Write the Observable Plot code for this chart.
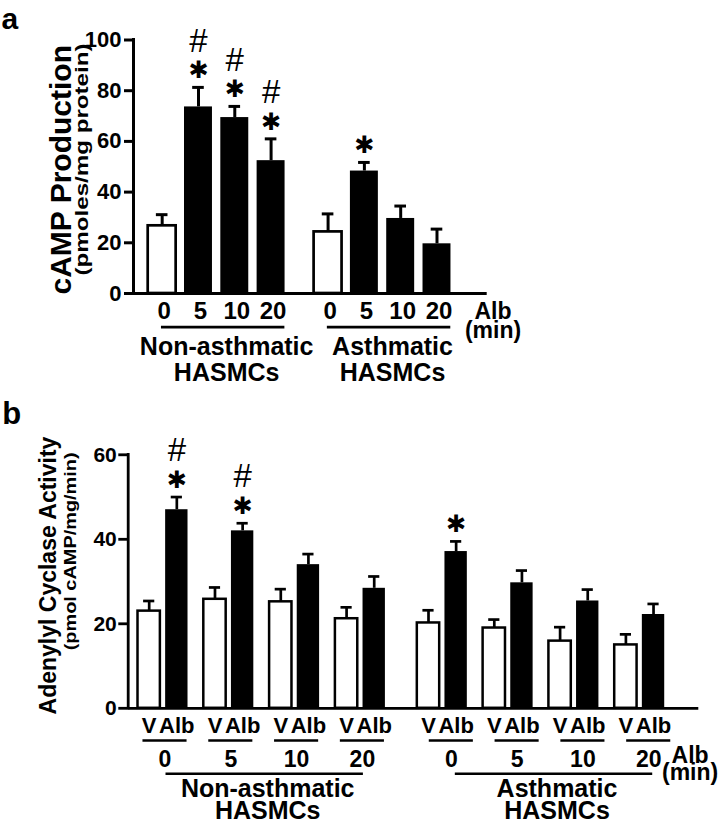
<!DOCTYPE html>
<html><head><meta charset="utf-8">
<script src="https://cdn.jsdelivr.net/npm/d3@7"></script>
<script src="https://cdn.jsdelivr.net/npm/@observablehq/plot@0.6"></script>
<style>
body{margin:0;background:#fff;width:723px;height:826px;overflow:hidden}
#chart svg{display:block}
</style></head><body><div id="chart"></div>
<script>
const FONT = "'Liberation Sans', Arial, Helvetica, sans-serif";

// ---------- Panel a data ----------
const panelA = "a";
const yTitleA = "cAMP Production";
const ySubA = "(pmoles/mg protein)";
const yTicksA = [0, 20, 40, 60, 80, 100];
const cellsA = ["Non-asthmatic\nHASMCs", "Asthmatic\nHASMCs"];
const timesA = ["0", "5", "10", "20"];
const unitNoteA = "Alb\n(min)";
const meanNonA = [26.7, 73.6, 69.4, 52.4];
const semNonA = [4.4, 7.7, 4.4, 8.6];
const meanAsthA = [24.3, 48.3, 29.6, 19.6];
const semAsthA = [7.1, 3.4, 4.9, 5.8];
const starNonA = [0, 1, 1, 1];
const hashNonA = [0, 1, 1, 1];
const starAsthA = [0, 1, 0, 0];
const hashAsthA = [0, 0, 0, 0];

// ---------- Panel b data ----------
const panelB = "b";
const yTitleB = "Adenylyl Cyclase Activity";
const ySubB = "(pmol cAMP/mg/min)";
const yTicksB = [0, 20, 40, 60];
const cellsB = ["Non-asthmatic\nHASMCs", "Asthmatic\nHASMCs"];
const timesB = ["0", "5", "10", "20"];
const treatB = ["V", "Alb"];
const unitNoteB = "Alb\n(min)";
const meanNonVB = [23.0, 25.8, 25.2, 21.2];
const semNonVB = [2.4, 2.8, 3.0, 2.7];
const meanNonAlbB = [47.0, 42.0, 34.0, 28.4];
const semNonAlbB = [3.0, 1.8, 2.5, 2.8];
const meanAsthVB = [20.2, 19.0, 15.9, 15.0];
const semAsthVB = [3.0, 2.0, 3.3, 2.5];
const meanAsthAlbB = [37.1, 29.7, 25.4, 22.2];
const semAsthAlbB = [2.4, 2.9, 2.7, 2.5];
const starNonAlbB = [1, 1, 0, 0];
const hashNonAlbB = [1, 1, 0, 0];
const starAsthAlbB = [1, 0, 0, 0];

// ---------- layout (slot units on a linear x scale) ----------
const GAP_A = 4.57, HW_A = 0.385, CAP_A = 0.16, xDomA = [-0.79, 8.953];
const GAP_B = 4.245, PAIR_B = 0.21, HW_B = 0.17, CAP_B = 0.085, xDomB = [-0.529, 8.143];
const STAR = {text: () => "\u2731", fontFamily: "'DejaVu Sans', sans-serif", fontSize: 24, fontWeight: "normal", dy: -17};
const HASH = {text: () => "#", fontFamily: FONT, fontSize: 33, fontWeight: "normal", dy: -46};

// ---------- build rows ----------
const rowsA = [];
[[meanNonA, semNonA, starNonA, hashNonA], [meanAsthA, semAsthA, starAsthA, hashAsthA]].forEach(([m, s, st, h], ci) => {
  timesA.forEach((t, ti) => rowsA.push({ci, time: t, pos: ti + ci * GAP_A, mean: m[ti], top: m[ti] + s[ti], star: !!st[ti], hash: !!h[ti], open: ti === 0}));
});
const groupsA = cellsA.map((label, ci) => ({ci, label, first: ci * GAP_A, last: timesA.length - 1 + ci * GAP_A}));

const rowsB = [];
[
  {ci: 0, tr: 0, m: meanNonVB, s: semNonVB},
  {ci: 0, tr: 1, m: meanNonAlbB, s: semNonAlbB, st: starNonAlbB, h: hashNonAlbB},
  {ci: 1, tr: 0, m: meanAsthVB, s: semAsthVB},
  {ci: 1, tr: 1, m: meanAsthAlbB, s: semAsthAlbB, st: starAsthAlbB}
].forEach(({ci, tr, m, s, st, h}) => timesB.forEach((t, ti) => {
  const g = ti + ci * GAP_B;
  rowsB.push({ci, treat: treatB[tr], time: t, g, pos: g + (tr === 0 ? -PAIR_B : PAIR_B), mean: m[ti], top: m[ti] + s[ti], star: !!(st && st[ti]), hash: !!(h && h[ti]), open: tr === 0});
}));
const pairsB = cellsB.flatMap((c, ci) => timesB.map((t, ti) => ({ci, time: t, g: ti + ci * GAP_B})));
const groupsB = cellsB.map((label, ci) => ({ci, label, first: ci * GAP_B, last: timesB.length - 1 + ci * GAP_B}));

const B = "bold";

// ---------- Panel a ----------
const plotA = Plot.plot({
  width: 723, height: 385,
  marginLeft: 133, marginRight: 236.3, marginTop: 39.5, marginBottom: 92,
  x: {domain: xDomA, axis: null},
  y: {domain: [0, 100]},
  style: {fontFamily: FONT, color: "black", background: "white", overflow: "visible"},
  marks: [
    Plot.axisY({ticks: yTicksA, tickSize: 9, tickPadding: 3, strokeWidth: 3, fontSize: 22, fontWeight: B, label: null}),
    Plot.rect(rowsA, {filter: d => d.open, x1: d => d.pos - HW_A, x2: d => d.pos + HW_A, y1: () => 0, y2: "mean", fill: "white", stroke: "black", strokeWidth: 2.7}),
    Plot.rect(rowsA, {filter: d => !d.open, x1: d => d.pos - HW_A, x2: d => d.pos + HW_A, y1: () => 0, y2: "mean", fill: "black"}),
    Plot.ruleX(rowsA, {x: "pos", y1: "mean", y2: "top", strokeWidth: 3}),
    Plot.ruleY(rowsA, {y: "top", x1: d => d.pos - CAP_A, x2: d => d.pos + CAP_A, strokeWidth: 3}),
    Plot.ruleX([xDomA[0]], {strokeWidth: 3, strokeLinecap: "square"}),
    Plot.ruleY([0], {strokeWidth: 3}),
    Plot.text(rowsA.filter(d => d.star), {x: "pos", y: "top", ...STAR}),
    Plot.text(rowsA.filter(d => d.hash), {x: "pos", y: "top", ...HASH}),
    Plot.text(rowsA, {x: "pos", text: "time", frameAnchor: "bottom", lineAnchor: "top", dy: 8.3, dx: 2, fontSize: 24, fontWeight: B}),
    Plot.ruleY(groupsA, {y: () => 0, x1: d => d.first - 0.02, x2: d => d.last + 0.38, dy: 33.7, strokeWidth: 2.7}),
    Plot.text(groupsA, {x: d => (d.first + d.last) / 2, text: "label", frameAnchor: "bottom", lineAnchor: "top", dy: 42.3, dx: 10, fontSize: 25, lineHeight: 1.064, fontWeight: B}),
    Plot.text([unitNoteA], {text: d => d, frameAnchor: "bottom-right", textAnchor: "middle", lineAnchor: "top", dx: 5.8, dy: 11.4, fontSize: 23, lineHeight: 0.84, fontWeight: B}),
    Plot.text([yTitleA], {text: d => d, frameAnchor: "left", textAnchor: "middle", lineAnchor: "middle", rotate: -90, dx: -72, dy: 3, fontSize: 30, fontWeight: B}),
    Plot.text([ySubA], {text: d => d, frameAnchor: "left", textAnchor: "middle", lineAnchor: "middle", rotate: -90, dx: -51, dy: -7.3, fontSize: 18, fontWeight: B}),
    Plot.text([panelA], {text: d => d, frameAnchor: "top-left", textAnchor: "start", lineAnchor: "top", dx: -132, dy: -39.5 + 28 - 0.71 * 30, fontSize: 30, fontWeight: B})
  ]
});

// ---------- Panel b ----------
const dxB = [2, 9], dxLongB = [3, 13], dxCellB = [6, 16];
const plotB = Plot.plot({
  width: 723, height: 441,
  marginLeft: 127.7, marginRight: 24.7, marginTop: 69.3, marginBottom: 118.2,
  x: {domain: xDomB, axis: null},
  y: {domain: [0, 60]},
  style: {fontFamily: FONT, color: "black", background: "white", overflow: "visible"},
  marks: [
    Plot.axisY({ticks: yTicksB, tickSize: 9.4, tickPadding: 2, strokeWidth: 2.8, fontSize: 21, fontWeight: B, label: null}),
    Plot.rect(rowsB, {filter: d => d.open, x1: d => d.pos - HW_B, x2: d => d.pos + HW_B, y1: () => 0, y2: "mean", fill: "white", stroke: "black", strokeWidth: 2.5}),
    Plot.rect(rowsB, {filter: d => !d.open, x1: d => d.pos - HW_B, x2: d => d.pos + HW_B, y1: () => 0, y2: "mean", fill: "black"}),
    Plot.ruleX(rowsB, {x: "pos", y1: "mean", y2: "top", strokeWidth: 2.7}),
    Plot.ruleY(rowsB, {y: "top", x1: d => d.pos - CAP_B, x2: d => d.pos + CAP_B, strokeWidth: 2.7}),
    Plot.ruleX([xDomB[0]], {strokeWidth: 2.8, strokeLinecap: "square"}),
    Plot.ruleY([0], {strokeWidth: 2.8}),
    Plot.text(rowsB.filter(d => d.star), {x: "pos", y: "top", ...STAR}),
    Plot.text(rowsB.filter(d => d.hash), {x: "pos", y: "top", ...HASH, dy: -47}),
    Plot.text(rowsB, {x: "pos", text: "treat", frameAnchor: "bottom", lineAnchor: "top", dy: 9.3, fontSize: 22, fontWeight: B}),
    ...[0, 1].flatMap(ci => [
      Plot.ruleY(pairsB.filter(d => d.ci === ci), {y: () => 0, x1: d => d.g - 0.335, x2: d => d.g + 0.335, dx: dxB[ci], dy: 32.2, strokeWidth: 2.6}),
      Plot.text(pairsB.filter(d => d.ci === ci), {x: "g", text: "time", frameAnchor: "bottom", lineAnchor: "top", dx: dxB[ci], dy: 42.6, fontSize: 23, fontWeight: B}),
      Plot.ruleY(groupsB.filter(d => d.ci === ci), {y: () => 0, x1: "first", x2: "last", dx: dxLongB[ci], dy: 65.5, strokeWidth: 2.6}),
      Plot.text(groupsB.filter(d => d.ci === ci), {x: d => (d.first + d.last) / 2, text: "label", frameAnchor: "bottom", lineAnchor: "top", dx: dxCellB[ci], dy: 72.5, fontSize: 25, lineHeight: 0.9, fontWeight: B})
    ]),
    Plot.text([unitNoteB], {text: d => d, frameAnchor: "bottom-right", textAnchor: "middle", lineAnchor: "top", dx: -8.7, dy: 42.6, fontSize: 23, lineHeight: 0.74, fontWeight: B}),
    Plot.text([yTitleB], {text: d => d, frameAnchor: "left", textAnchor: "middle", lineAnchor: "middle", rotate: -90, dx: -79.4, dy: -6, fontSize: 23, fontWeight: B}),
    Plot.text([ySubB], {text: d => d, frameAnchor: "left", textAnchor: "middle", lineAnchor: "middle", rotate: -90, dx: -57.3, dy: -30.2, fontSize: 16, fontWeight: B}),
    Plot.text([panelB], {text: d => d, frameAnchor: "top-left", textAnchor: "start", lineAnchor: "top", dx: -126, dy: -53, fontSize: 31, fontWeight: B})
  ]
});

function stretch(svg, content, len) {
  d3.select(svg).selectAll("text").filter(function () { return this.textContent === content; })
    .attr("textLength", len).attr("lengthAdjust", "spacingAndGlyphs");
}
stretch(plotA, ySubA, 232);
stretch(plotB, ySubB, 198);

document.getElementById("chart").append(plotA, plotB);
</script></body></html>
